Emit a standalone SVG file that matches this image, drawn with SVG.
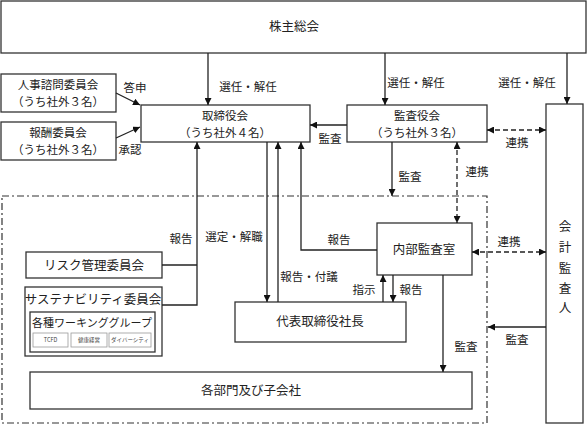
<svg xmlns="http://www.w3.org/2000/svg" width="588" height="426" viewBox="0 0 588 426">
<defs>
<style>
.box{fill:#fff;stroke:#333;stroke-width:1.3}
.sm{fill:#fff;stroke:#999;stroke-width:0.8}
.ln{fill:none;stroke:#222;stroke-width:1.3}
.dl{fill:none;stroke:#222;stroke-width:1.3;stroke-dasharray:5,3}
.bd{fill:none;stroke:#333;stroke-width:1.2;stroke-dasharray:7,3,2,3}
text{font-family:"Noto Sans CJK JP","Noto Sans",sans-serif;fill:#222;text-anchor:middle}
.t{font-size:12.5px}
.t2{font-size:11.5px}
.l{font-size:11.5px}
.w{font-size:11px}
.x{font-size:5.5px;fill:#444}
</style>
<marker id="a" viewBox="0 0 10 10" refX="10" refY="5" markerWidth="7" markerHeight="7" markerUnits="userSpaceOnUse" orient="auto-start-reverse">
<path d="M0,0 L10,5 L0,10 Z" fill="#111"/>
</marker>
</defs>

<g id="boundary"><rect class="bd" x="2" y="196" width="485" height="227"/></g>

<g id="kabunushi"><rect class="box" x="1" y="1" width="585" height="52"/><text class="t" x="294" y="31">株主総会</text></g>
<g id="torishimariyaku"><rect class="box" x="141" y="105" width="169" height="37"/><text class="t2" x="225" y="119.5">取締役会</text><text class="t2" x="225" y="136.5">（うち社外４名）</text></g>
<g id="kansayaku"><rect class="box" x="347" y="105" width="140" height="37"/><text class="t2" x="417" y="119.5">監査役会</text><text class="t2" x="417" y="136.5">（うち社外３名）</text></g>
<g id="kaikei"><rect class="box" x="546" y="104" width="37" height="319"/>
<text class="t" x="565" y="231">会</text><text class="t" x="565" y="252">計</text><text class="t" x="565" y="273">監</text><text class="t" x="565" y="293">査</text><text class="t" x="565" y="312">人</text></g>
<g id="jinji"><rect class="box" x="1" y="74" width="115" height="38"/><text class="t2" x="58" y="89">人事諮問委員会</text><text class="t2" x="58" y="106">（うち社外３名）</text></g>
<g id="hoshu"><rect class="box" x="1" y="122" width="115" height="38"/><text class="t2" x="58" y="137">報酬委員会</text><text class="t2" x="58" y="154">（うち社外３名）</text></g>
<g id="risk"><rect class="box" x="26" y="252" width="136" height="26"/><text class="t" x="94" y="270">リスク管理委員会</text></g>
<g id="sustain"><rect class="box" x="25" y="287" width="137" height="69"/><text class="t" x="93" y="304">サステナビリティ委員会</text>
<rect class="box" x="30" y="312" width="125" height="40"/><text class="w" x="92" y="327">各種ワーキンググループ</text>
<rect class="sm" x="33" y="333" width="35" height="14"/><text class="x" x="50.5" y="342">TCFD</text>
<rect class="sm" x="71" y="333" width="36" height="14"/><text class="x" x="89" y="342">健康経営</text>
<rect class="sm" x="109" y="333" width="42" height="14"/><text class="x" x="130" y="342">ダイバーシティ</text></g>
<g id="naibu"><rect class="box" x="377" y="223" width="95" height="52"/><text class="t" x="424" y="254">内部監査室</text></g>
<g id="daihyo"><rect class="box" x="235" y="302" width="171" height="40"/><text class="t" x="320" y="326">代表取締役社長</text></g>
<g id="bumon"><rect class="box" x="30" y="372" width="442" height="37"/><text class="t" x="251" y="395">各部門及び子会社</text></g>

<g id="connectors">
<line class="ln" x1="208" y1="53" x2="208" y2="105" marker-end="url(#a)"/>
<line class="ln" x1="385" y1="53" x2="385" y2="105" marker-end="url(#a)"/>
<line class="ln" x1="567" y1="53" x2="567" y2="104" marker-end="url(#a)"/>
<line class="ln" x1="116" y1="93" x2="140" y2="105" marker-end="url(#a)"/>
<line class="ln" x1="116" y1="138" x2="140" y2="127" marker-end="url(#a)"/>
<line class="ln" x1="347" y1="125" x2="310" y2="125" marker-end="url(#a)"/>
<line class="dl" x1="487" y1="130" x2="546" y2="130" marker-start="url(#a)" marker-end="url(#a)"/>
<line class="ln" x1="392" y1="142" x2="392" y2="196" marker-end="url(#a)"/>
<line class="dl" x1="457" y1="142" x2="457" y2="223" marker-start="url(#a)" marker-end="url(#a)"/>
<polyline class="ln" points="162,265 197,265"/>
<polyline class="ln" points="162,305 197,305 197,142" marker-end="url(#a)"/>
<line class="ln" x1="267" y1="142" x2="267" y2="302" marker-end="url(#a)"/>
<line class="ln" x1="278" y1="302" x2="278" y2="142" marker-end="url(#a)"/>
<polyline class="ln" points="377,250 301,250 301,142" marker-end="url(#a)"/>
<line class="ln" x1="383" y1="302" x2="383" y2="275" marker-end="url(#a)"/>
<line class="ln" x1="393" y1="275" x2="393" y2="302" marker-end="url(#a)"/>
<line class="ln" x1="443" y1="275" x2="443" y2="372" marker-end="url(#a)"/>
<line class="dl" x1="472" y1="252" x2="546" y2="252" marker-start="url(#a)" marker-end="url(#a)"/>
<line class="ln" x1="546" y1="327" x2="488" y2="327" marker-end="url(#a)"/>
</g>

<g id="labels">
<text class="l" x="248" y="91">選任・解任</text>
<text class="l" x="416" y="87">選任・解任</text>
<text class="l" x="527" y="87">選任・解任</text>
<text class="l" x="135" y="92">答申</text>
<text class="l" x="130" y="154">承認</text>
<text class="l" x="330" y="143">監査</text>
<text class="l" x="517" y="147">連携</text>
<text class="l" x="410" y="181">監査</text>
<text class="l" x="477" y="176">連携</text>
<text class="l" x="181" y="243">報告</text>
<text class="l" x="234" y="241">選定・解職</text>
<text class="l" x="339" y="244">報告</text>
<text class="l" x="309" y="281">報告・付議</text>
<text class="l" x="364" y="294">指示</text>
<text class="l" x="411" y="294">報告</text>
<text class="l" x="466" y="351">監査</text>
<text class="l" x="509" y="246">連携</text>
<text class="l" x="517" y="344">監査</text>
</g>
</svg>
